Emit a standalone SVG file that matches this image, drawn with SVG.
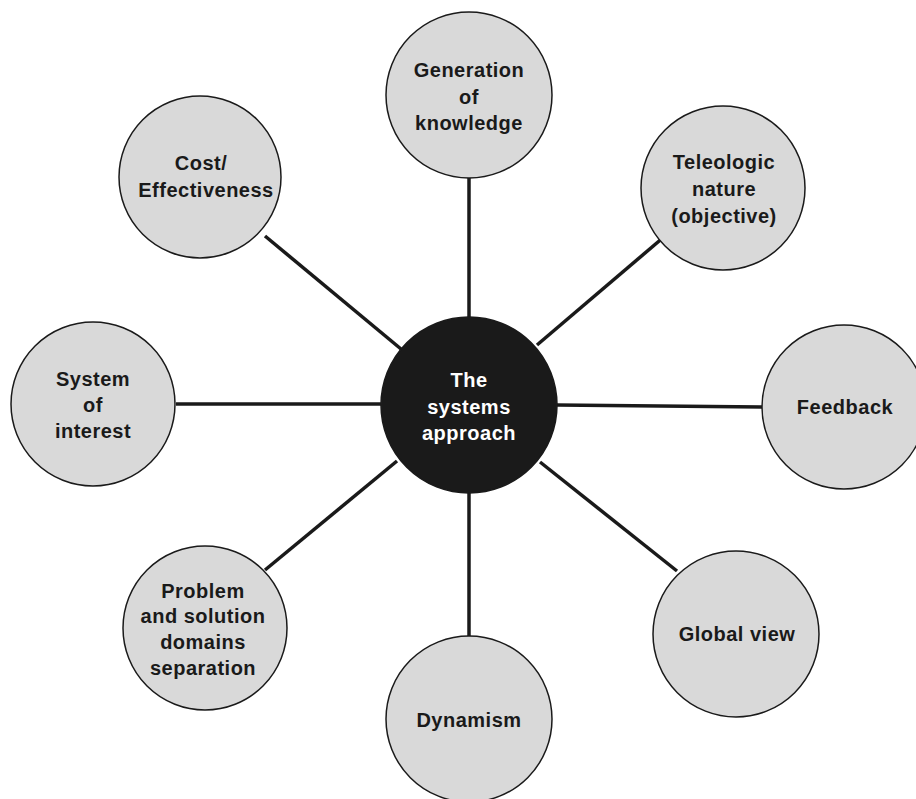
<svg xmlns="http://www.w3.org/2000/svg" width="916" height="799" viewBox="0 0 916 799">
<style>
.n{fill:#d9d9d9;stroke:#1a1a1a;stroke-width:1.5}
.c{fill:#1a1a1a;stroke:#1a1a1a;stroke-width:1.5}
.t{font-family:"Liberation Sans",Arial,sans-serif;font-weight:bold;font-size:20px;letter-spacing:0.5px;fill:#1a1a1a;text-anchor:middle}
.w{fill:#ffffff}
.e{stroke:#1a1a1a;stroke-width:3.5;fill:none}
</style>
<rect width="916" height="799" fill="#ffffff"/>
<g id="connectors">
<line class="e" x1="469" y1="317" x2="469" y2="178"/>
<line class="e" x1="401" y1="349" x2="265" y2="236"/>
<line class="e" x1="537" y1="345" x2="665" y2="236"/>
<line class="e" x1="381" y1="404" x2="176" y2="404"/>
<line class="e" x1="557" y1="405" x2="762" y2="407"/>
<line class="e" x1="397" y1="461" x2="265" y2="570"/>
<line class="e" x1="540" y1="462" x2="677" y2="571"/>
<line class="e" x1="469" y1="493" x2="469" y2="636"/>
</g>
<g id="generation">
<circle class="n" cx="469" cy="95" r="83"/>
<text class="t" x="469" y="77">Generation</text>
<text class="t" x="469" y="104">of</text>
<text class="t" x="469" y="130">knowledge</text>
</g>
<g id="cost">
<circle class="n" cx="200" cy="177" r="81"/>
<text class="t" x="201" y="170">Cost/</text>
<text class="t" x="206" y="197">Effectiveness</text>
</g>
<g id="teleologic">
<circle class="n" cx="723" cy="188" r="82"/>
<text class="t" x="724" y="169">Teleologic</text>
<text class="t" x="724" y="196">nature</text>
<text class="t" x="724" y="223">(objective)</text>
</g>
<g id="system">
<circle class="n" cx="93" cy="404" r="82"/>
<text class="t" x="93" y="386">System</text>
<text class="t" x="93" y="412">of</text>
<text class="t" x="93" y="438">interest</text>
</g>
<g id="feedback">
<circle class="n" cx="844" cy="407" r="82"/>
<text class="t" x="845" y="414">Feedback</text>
</g>
<g id="problem">
<circle class="n" cx="205" cy="628" r="82"/>
<text class="t" x="203" y="598">Problem</text>
<text class="t" x="203" y="623">and solution</text>
<text class="t" x="203" y="649">domains</text>
<text class="t" x="203" y="675">separation</text>
</g>
<g id="global">
<circle class="n" cx="736" cy="634" r="83"/>
<text class="t" x="737" y="641">Global view</text>
</g>
<g id="dynamism">
<circle class="n" cx="469" cy="719" r="83"/>
<text class="t" x="469" y="727">Dynamism</text>
</g>
<g id="center">
<circle class="c" cx="469" cy="405" r="88"/>
<text class="t w" x="469" y="387">The</text>
<text class="t w" x="469" y="414">systems</text>
<text class="t w" x="469" y="440">approach</text>
</g>
</svg>
